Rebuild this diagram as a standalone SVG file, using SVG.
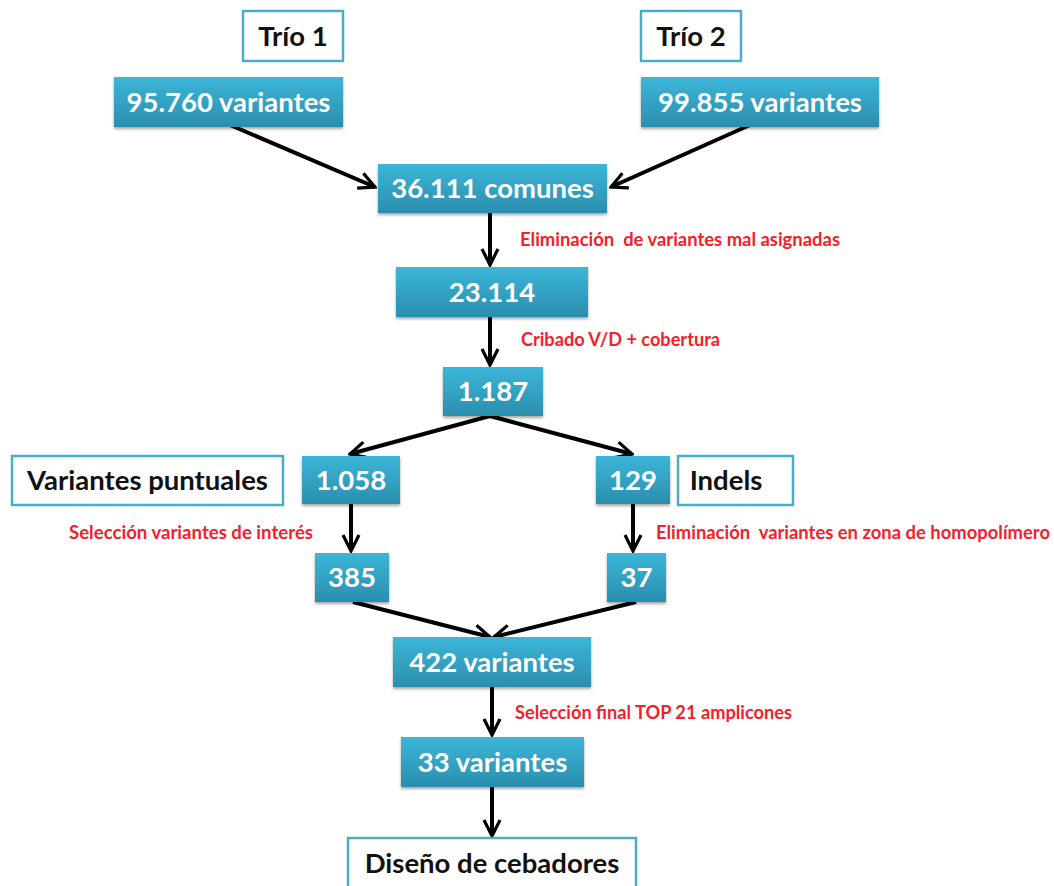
<svg xmlns="http://www.w3.org/2000/svg" width="1054" height="886" viewBox="0 0 1054 886">
<style>
.b{fill:url(#g);filter:url(#sh)}
.w{fill:#fff;stroke:#4bacc6;stroke-width:2.5}
.bt{font-family:Lato,"Liberation Sans",sans-serif;font-weight:bold;font-size:27.5px;fill:#fff;text-anchor:middle}
.wt{font-family:Lato,"Liberation Sans",sans-serif;font-weight:bold;font-size:27.5px;fill:#111;text-anchor:middle}
.r{font-family:Lato,"Liberation Sans",sans-serif;font-weight:bold;font-size:18px;fill:#f5202a;white-space:pre}
.c{stroke:#000;stroke-width:4;fill:none;marker-end:url(#ah)}
</style>
<defs>
<linearGradient id="g" x1="0" y1="0" x2="0" y2="1">
<stop offset="0" stop-color="#3cb6d8"/>
<stop offset="1" stop-color="#2b8eae"/>
</linearGradient>
<filter id="sh" x="-10%" y="-10%" width="120%" height="130%">
<feDropShadow dx="0" dy="2" stdDeviation="1.5" flood-color="#000" flood-opacity="0.35"/>
</filter>
<marker id="ah" viewBox="0 0 10 10" refX="9" refY="5" markerWidth="5" markerHeight="5" orient="auto" markerUnits="strokeWidth">
<path d="M1,1 L9,5 L1,9" fill="none" stroke="#000" stroke-width="1.6" stroke-linejoin="miter"/>
</marker>
</defs>
<rect width="1054" height="886" fill="#fff"/>
<g id="connectors">
<line class="c" x1="230" y1="125" x2="375" y2="187"/>
<line class="c" x1="750" y1="125" x2="611" y2="187"/>
<line class="c" x1="490" y1="213" x2="490" y2="265"/>
<line class="c" x1="490" y1="317" x2="490" y2="365"/>
<line class="c" x1="490" y1="416" x2="350" y2="454"/>
<line class="c" x1="490" y1="416" x2="632" y2="454"/>
<line class="c" x1="351" y1="504" x2="351" y2="551"/>
<line class="c" x1="633" y1="504" x2="633" y2="551"/>
<line class="c" x1="353" y1="602" x2="490" y2="637"/>
<line class="c" x1="636" y1="602" x2="494" y2="637"/>
<line class="c" x1="492" y1="687" x2="492" y2="735"/>
<line class="c" x1="492" y1="787" x2="492" y2="836"/>
</g>
<g id="trio1"><rect class="w" x="243" y="11" width="100" height="50"/><text class="wt" x="293" y="46">Trío 1</text></g>
<g id="trio2"><rect class="w" x="641" y="11" width="100" height="50"/><text class="wt" x="691" y="46">Trío 2</text></g>
<g id="v95760"><rect class="b" x="114" y="77" width="229" height="50"/><text class="bt" x="228.5" y="112">95.760 variantes</text></g>
<g id="v99855"><rect class="b" x="641" y="77" width="238" height="50"/><text class="bt" x="760" y="112">99.855 variantes</text></g>
<g id="comunes"><rect class="b" x="378" y="164" width="229" height="49"/><text class="bt" x="492.5" y="198">36.111 comunes</text></g>
<text class="r" x="520" y="246" textLength="320" lengthAdjust="spacingAndGlyphs">Eliminación  de variantes mal asignadas</text>
<g id="n23114"><rect class="b" x="396" y="267" width="192" height="50"/><text class="bt" x="492" y="302">23.114</text></g>
<text class="r" x="521" y="346" textLength="199" lengthAdjust="spacingAndGlyphs">Cribado V/D + cobertura</text>
<g id="n1187"><rect class="b" x="443" y="367" width="100" height="49"/><text class="bt" x="493" y="401">1.187</text></g>
<g id="puntuales"><rect class="w" x="12" y="456" width="271" height="49"/><text class="wt" x="147.5" y="490">Variantes puntuales</text></g>
<g id="n1058"><rect class="b" x="302" y="456" width="98" height="48"/><text class="bt" x="351" y="490">1.058</text></g>
<g id="n129"><rect class="b" x="596" y="456" width="74" height="48"/><text class="bt" x="633" y="490">129</text></g>
<g id="indels"><rect class="w" x="678" y="456" width="115" height="49"/><text class="wt" x="726" y="490">Indels</text></g>
<text class="r" x="69" y="539" textLength="244" lengthAdjust="spacingAndGlyphs">Selección variantes de interés</text>
<text class="r" x="656" y="539" textLength="394" lengthAdjust="spacingAndGlyphs">Eliminación  variantes en zona de homopolímero</text>
<g id="n385"><rect class="b" x="315" y="553" width="74" height="49"/><text class="bt" x="352" y="587">385</text></g>
<g id="n37"><rect class="b" x="607" y="553" width="59" height="49"/><text class="bt" x="636.5" y="587">37</text></g>
<g id="n422"><rect class="b" x="393" y="637" width="198" height="50"/><text class="bt" x="492" y="672">422 variantes</text></g>
<text class="r" x="515" y="719" textLength="277" lengthAdjust="spacingAndGlyphs">Selección final TOP 21 amplicones</text>
<g id="n33"><rect class="b" x="401" y="737" width="183" height="50"/><text class="bt" x="492.5" y="772">33 variantes</text></g>
<g id="diseno"><rect class="w" x="348" y="838" width="288" height="52"/><text class="wt" x="492" y="873">Diseño de cebadores</text></g>
</svg>
